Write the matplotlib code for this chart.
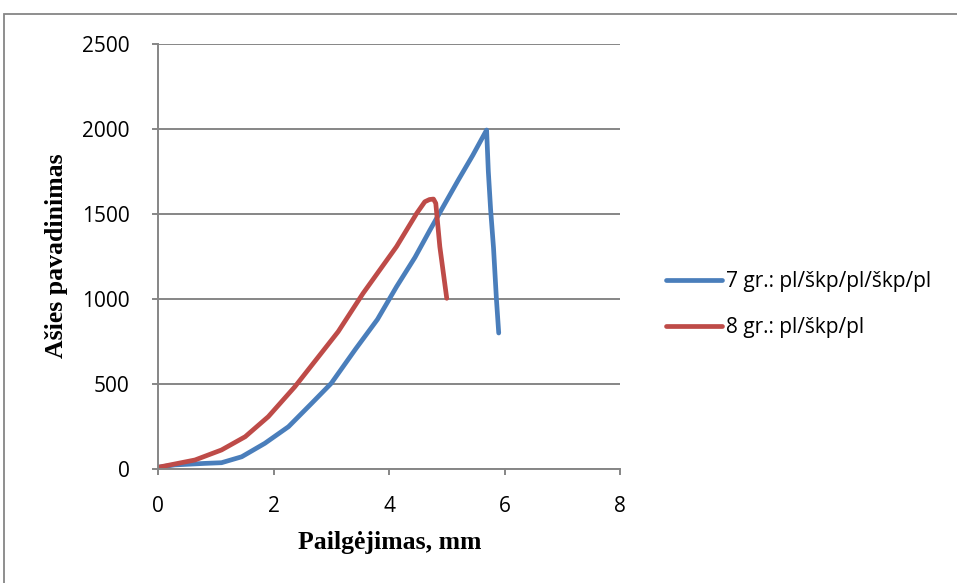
import matplotlib
matplotlib.use("Agg")
import matplotlib.pyplot as plt
from matplotlib.patches import Rectangle

# Data
x7 = [0.0, 0.29, 0.81, 1.10, 1.45, 1.85, 2.26, 2.66, 3.0, 3.42, 3.8, 4.13, 4.45, 4.71, 4.95, 5.2, 5.45, 5.69,
      5.72, 5.76, 5.81, 5.86, 5.9]
y7 = [10, 24, 33, 37, 72, 151, 249, 386, 504, 705, 880, 1072, 1245, 1406, 1550, 1700, 1845, 1994,
      1750, 1524, 1300, 1000, 800]
label7 = "7 gr.: pl/škp/pl/škp/pl"

x8 = [0.0, 0.12, 0.64, 1.1, 1.51, 1.91, 2.37, 2.78, 3.12, 3.55, 4.13, 4.48, 4.62, 4.7, 4.77, 4.81, 4.88, 5.0]
y8 = [10, 18, 53, 112, 190, 308, 484, 661, 808, 1033, 1308, 1504, 1572, 1585, 1588, 1563, 1308, 1004]
label8 = "8 gr.: pl/škp/pl"

xticks = [0, 2, 4, 6, 8]
yticks = [0, 500, 1000, 1500, 2000, 2500]
xlabel = "Pailgėjimas, mm"
ylabel = "Ašies pavadinimas"

W, H = 957, 583
fig = plt.figure(figsize=(W / 100, H / 100), dpi=100)
ax = fig.add_axes([158 / W, 1 - 469 / H, (620 - 158) / W, (469 - 44) / H])

tickfont = {"family": ["Open Sans", "DejaVu Sans"], "size": 15}
ax.plot(x7, y7, color="#4a7ebb", lw=3.4, label=label7, solid_capstyle="round", solid_joinstyle="round")
ax.plot(x8, y8, color="#be4b48", lw=3.4, label=label8, solid_capstyle="round", solid_joinstyle="round")

ax.set_xlim(0, 8)
ax.set_ylim(0, 2500)
ax.set_xticks(xticks)
ax.set_yticks(yticks)
ax.set_xticklabels([str(v) for v in xticks], fontdict=tickfont)
ax.set_yticklabels([str(v) for v in yticks], fontdict=tickfont)
ax.grid(axis="y", color="#868686", lw=1.4)
ax.set_axisbelow(True)
for s in ["top", "right"]:
    ax.spines[s].set_visible(False)
for s in ["left", "bottom"]:
    ax.spines[s].set_color("#868686")
    ax.spines[s].set_linewidth(1.4)
ax.tick_params(axis="both", direction="out", length=4.5, color="#868686", width=1.4)
ax.tick_params(axis="x", pad=15)
ax.tick_params(axis="y", pad=16)

fig.text(390 / W, 1 - 542 / H, xlabel, family="Liberation Serif", fontweight="bold", fontsize=18.5,
         ha="center", va="center")
fig.text(57 / W, 1 - 256 / H, ylabel, family="Liberation Serif", fontweight="bold", fontsize=18.5,
         ha="center", va="center", rotation=90)

leg = ax.legend(loc="center left", bbox_to_anchor=(1.06, 0.387), frameon=False,
                prop={"family": ["Open Sans", "DejaVu Sans"], "size": 15},
                handlelength=2.65, handletextpad=0.2, labelspacing=1.18)

fig.patches.append(Rectangle((4 / W, -0.1), 1.2, 1 - 14 / H + 0.1, transform=fig.transFigure,
                             fill=False, edgecolor="#868686", lw=1.3))

fig.savefig("out.png", dpi=100)
